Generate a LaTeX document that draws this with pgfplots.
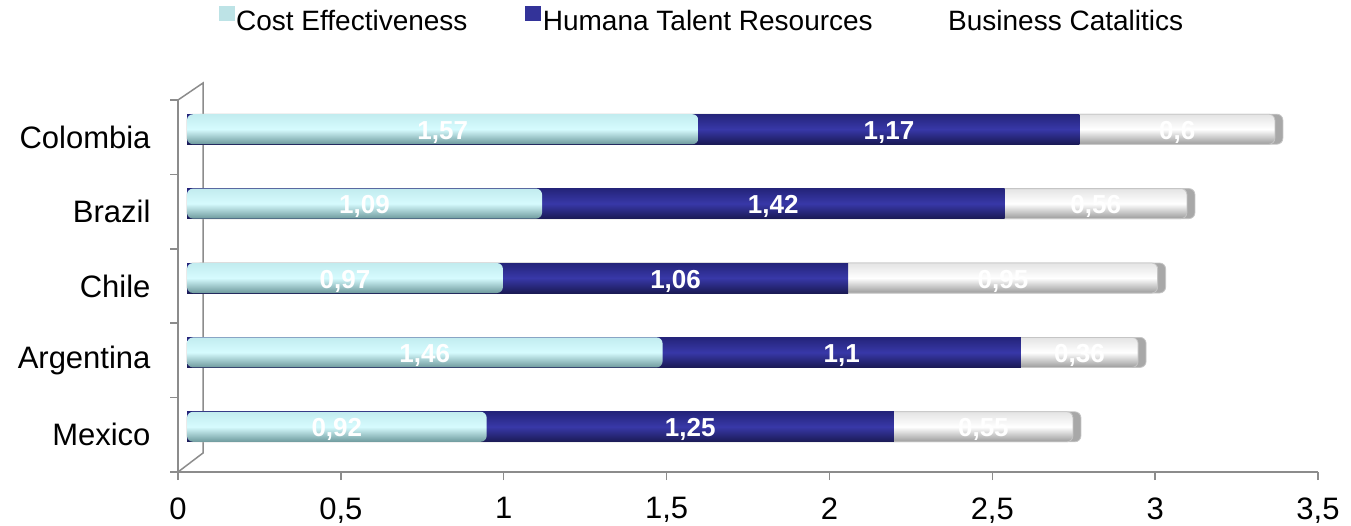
\documentclass[border=0pt]{standalone}
\usepackage{fontspec}
\setmainfont{Liberation Sans}
\usepackage{pgfplots}
\usepackage{pgfplotstable}
\pgfplotsset{compat=1.18}
\definecolor{axgray}{HTML}{8C8C8C}
\definecolor{cyanT}{HTML}{C2ECEF}
\definecolor{cyanM}{HTML}{D6FBFE}
\definecolor{cyanB}{HTML}{6E9A9D}
\definecolor{navyT}{HTML}{24247A}
\definecolor{navyM}{HTML}{3838A8}
\definecolor{navyB}{HTML}{1A1A55}
\definecolor{whT}{HTML}{E4E4E4}
\definecolor{whM}{HTML}{FFFFFF}
\definecolor{whB}{HTML}{9C9C9C}
\definecolor{capgray}{HTML}{A8A8A8}
\definecolor{legcyan}{HTML}{BDE3E6}
\definecolor{legnavy}{HTML}{333399}
\pgfplotsset{/pgf/number format/.cd, use comma, 1000 sep={}}

\pgfplotstableread{
y ce htr bc
0 0.92 1.25 0.55
1 1.46 1.1 0.36
2 0.97 1.06 0.95
3 1.09 1.42 0.56
4 1.57 1.17 0.6
}\data

\begin{document}
\begin{tikzpicture}
\useasboundingbox (0,0) rectangle (1351pt,525pt);
\begin{axis}[
  at={(178pt,53pt)}, anchor=south west,
  scale only axis, width=1140pt, height=372pt,
  bar width=30pt,
  xmin=0, xmax=3.5, ymin=-0.5, ymax=4.5,
  clip=false,
  axis lines=left,
  axis line style={-, axgray, line width=1.5pt},
  /pgf/number format/assume math mode=true,
  tick label style={font=\fontsize{31}{36}\selectfont, black},
  xtick={0,0.5,...,3.5},
  tick align=outside,
  major tick length=8pt,
  tick style={axgray, line width=1.5pt},
  xticklabel style={yshift=-14pt},
  ytick={-0.5,0.5,1.5,2.5,3.5,4.5},
  yticklabels={},
  extra y ticks={0,1,2,3,4},
  extra y tick labels={Mexico,Argentina,Chile,Brazil,Colombia},
  extra y tick style={major tick length=0pt, tick style={draw=none}, yticklabel style={xshift=-24pt}},
  legend style={at={(0.4596,1)}, anchor=center, yshift=80pt, draw=none, fill=none,
    font=\fontsize{28}{32}\selectfont,
    /tikz/every even column/.append style={column sep=56pt}},
  legend columns=3,
  every axis plot post/.append style={xshift=9pt, yshift=8pt},
  every node near coord/.append style={font=\bfseries\fontsize{26}{30}\selectfont, text=white, anchor=center, yshift=-3pt},
]
\draw[axgray, line width=1.5pt] (rel axis cs:0,1) -- ++(25pt,17pt) -- ([xshift=25pt, yshift=19pt]rel axis cs:0,0) -- (rel axis cs:0,0);
\addlegendimage{legend image code/.code={\fill[legcyan] (0pt,-7pt) rectangle (15pt,7pt);}}
\addlegendimage{legend image code/.code={\fill[legnavy] (0pt,-7pt) rectangle (15pt,7pt);}}
\addlegendimage{legend image code/.code={\fill[white] (0pt,-7pt) rectangle (15pt,7pt);}}
\pgfplotsinvokeforeach{0,...,4}{
  \addplot[xbar, bar shift=0pt, draw=axgray!50, line width=0.8pt, rounded corners=6pt,
    fill=capgray, xshift=8pt, restrict y to domain=#1:#1, forget plot]
    table[x expr=\thisrow{ce}+\thisrow{htr}+\thisrow{bc}, y=y] {\data};
  \addplot[xbar, bar shift=0pt, draw=axgray!50, line width=0.8pt, rounded corners=6pt,
    top color=whT, bottom color=whB, middle color=whM,
    restrict y to domain=#1:#1, forget plot]
    table[x expr=\thisrow{ce}+\thisrow{htr}+\thisrow{bc}, y=y] {\data};
  \addplot[xbar, bar shift=0pt, draw=none,
    top color=navyT, bottom color=navyB, middle color=navyM,
    restrict y to domain=#1:#1, forget plot]
    table[x expr=\thisrow{ce}+\thisrow{htr}, y=y] {\data};
  \addplot[xbar, bar shift=0pt, draw=none, rounded corners=6pt,
    top color=cyanT, bottom color=cyanB, middle color=cyanM,
    restrict y to domain=#1:#1, forget plot]
    table[x=ce, y=y] {\data};
}
\addplot[draw=none, nodes near coords, point meta=explicit, forget plot]
  table[x expr=\thisrow{ce}/2, y=y, meta=ce] {\data};
\addplot[draw=none, nodes near coords, point meta=explicit, forget plot]
  table[x expr=\thisrow{ce}+\thisrow{htr}/2, y=y, meta=htr] {\data};
\addplot[draw=none, nodes near coords, point meta=explicit, forget plot]
  table[x expr=\thisrow{ce}+\thisrow{htr}+\thisrow{bc}/2, y=y, meta=bc] {\data};
\legend{Cost Effectiveness, Humana Talent Resources, Business Catalitics}
\end{axis}
\end{tikzpicture}
\end{document}
